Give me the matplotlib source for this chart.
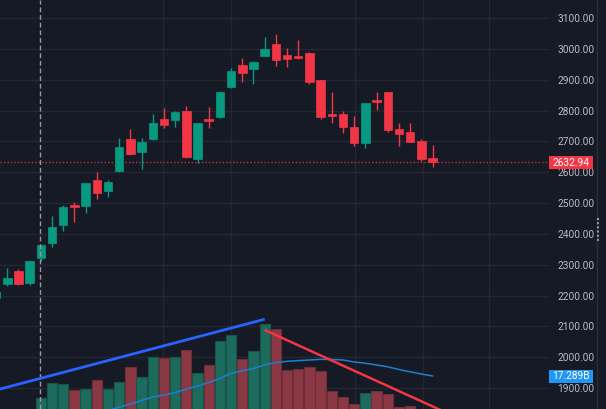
import matplotlib
matplotlib.use("Agg")
import matplotlib.pyplot as plt
from matplotlib.patches import Rectangle
from matplotlib.lines import Line2D
from matplotlib.transforms import blended_transform_factory

plt.rcParams['font.family'] = ['Roboto', 'DejaVu Sans']

# candle data, index -1 is the partly hidden bar at the left edge
opens = [2192, 2237, 2280, 2241, 2322, 2371, 2429, 2493, 2490, 2574, 2539,
         2604, 2707, 2666, 2707, 2773, 2770, 2800, 2643, 2772, 2779, 2876,
         2948, 2934, 2978, 3017, 2981, 2976, 2986, 2900, 2790, 2789, 2748,
         2696, 2835, 2860, 2740, 2732, 2702, 2647]
highs = [2214, 2290, 2286, 2313, 2365, 2458, 2494, 2505, 2566, 2600, 2575,
         2710, 2740, 2710, 2789, 2809, 2798, 2815, 2760, 2811, 2863, 2938,
         2971, 2960, 3038, 3049, 3003, 3030, 2990, 2901, 2862, 2800, 2783,
         2825, 2860, 2861, 2761, 2761, 2707, 2689]
lows = [2188, 2232, 2235, 2234, 2312, 2357, 2410, 2440, 2469, 2513, 2519,
        2602, 2656, 2610, 2705, 2743, 2746, 2646, 2631, 2745, 2776, 2874,
        2892, 2886, 2976, 2946, 2943, 2967, 2887, 2772, 2761, 2729, 2686,
        2680, 2802, 2732, 2686, 2698, 2638, 2618]
closes = [2210, 2258, 2237, 2312, 2364, 2423, 2487, 2486, 2564, 2534, 2568,
          2681, 2658, 2697, 2759, 2753, 2797, 2649, 2759, 2766, 2862, 2930,
          2921, 2958, 2999, 2965, 2967, 2970, 2892, 2781, 2784, 2748, 2694,
          2824, 2829, 2737, 2724, 2699, 2643, 2632.94]

# volume in billions, same order as the candles
volumes = [4.0, 4.5, 4.2, 5.0, 9.63, 14.71, 14.36, 12.35, 12.63, 15.77, 12.63,
           15.10, 20.57, 17.04, 24.06, 23.71, 24.06, 26.46, 18.24, 21.24, 29.57,
           31.76, 23.29, 26.11, 35.64, 33.98, 19.41, 19.76, 20.57, 19.16, 12.10,
           9.77, 7.41, 11.19, 11.89, 10.94, 6.25, 6.70, 5.2, 4.8]

# volume moving average, starting at candle 9
ma_start = 9
ma_values = [5.1, 6.28, 7.45, 8.64, 9.88, 10.59, 11.43, 12.70, 13.76, 15.0,
             16.41, 18.28, 19.12, 19.94, 21.24, 22.05, 22.48, 22.72, 22.94,
             23.18, 23.11, 22.94, 22.23, 21.81, 21.17, 20.54, 19.58, 18.77,
             17.99, 17.289]

price_ticks = [1900, 2000, 2100, 2200, 2300, 2400, 2500, 2600, 2700, 2800,
               2900, 3000, 3100]
time_grid = [13.9, 20.0, 31.05, 37.15, 43.05]

# drawn trend lines (index, price)
blue_trend = [(-1, 1893), (23, 2123)]
red_trend = [(23, 2088), (40, 1807)]

last_price = 2632.94
last_volume_ma = "17.289B"
crosshair_x = 2.95

BG = '#161a25'
GRID = '#242733'
GREEN = '#089981'
RED = '#f23645'
VOL_GREEN = '#1c6b5c'
VOL_RED = '#8a3944'
TEXT = '#b8bbc3'

W, H = 606, 409
fig = plt.figure(figsize=(W / 100, H / 100), dpi=100, facecolor=BG)
rect = [0, 0, 549 / W, 1]
ax_vol = fig.add_axes(rect, facecolor=BG)
ax = fig.add_axes(rect)
ax.patch.set_visible(False)

xs = list(range(-1, len(opens) - 1))
xlim = (-0.652, 48.41)
ax.set_xlim(*xlim)
ax_vol.set_xlim(*xlim)
ax.set_ylim(1831.5, 3159.4)
ax_vol.set_ylim(5.646, 149.96)

# grid, drawn on the back axes so that it sits under the volume bars
hz = blended_transform_factory(ax_vol.transAxes, ax.transData)
for p in price_ticks:
    ax_vol.plot([0, 1], [p, p], color=GRID, lw=1, transform=hz, zorder=0)
for t in time_grid:
    ax_vol.axvline(t, color=GRID, lw=1, zorder=0)

# volume bars and MA
vol_cols = [VOL_GREEN if c >= o else VOL_RED for o, c in zip(opens, closes)]
edge_cols = ['#16564a' if c >= o else '#6e2d37' for o, c in zip(opens, closes)]
ax_vol.bar(xs, volumes, width=0.92, color=vol_cols, edgecolor=edge_cols,
           linewidth=0.8, zorder=2)
ma_x = list(range(ma_start, ma_start + len(ma_values)))
ax_vol.plot(ma_x, ma_values, color='#1e7fd0', lw=1.1, zorder=3)

# candles
for x, o, h, l, c in zip(xs, opens, highs, lows, closes):
    col = GREEN if c >= o else RED
    ax.vlines(x, l, h, color=col, lw=1, zorder=3)
    ax.bar(x, abs(c - o), bottom=min(o, c), width=0.76, color=col,
           edgecolor=col, linewidth=0.5, zorder=4)

# current price line and crosshair
ax.axhline(last_price, color=RED, lw=1, ls=(0, (1, 1.5)), alpha=0.8, zorder=2)
ax.axvline(crosshair_x, color='#9598a1', lw=1, ls=(0, (3.5, 2)), zorder=5)

# trend lines
ax.plot([p[0] for p in blue_trend], [p[1] for p in blue_trend],
        color='#2962ff', lw=2, zorder=6, solid_capstyle='butt')
ax.plot([p[0] for p in red_trend], [p[1] for p in red_trend],
        color=RED, lw=1.8, zorder=6, solid_capstyle='butt')

# price scale
ax.yaxis.tick_right()
ax.set_yticks(price_ticks)
ax.set_yticklabels([f"{p:.2f}" for p in price_ticks])
ax.tick_params(axis='y', length=0, pad=6, labelsize=7.3, labelcolor=TEXT)
ax.set_xticks([])
ax_vol.set_xticks([])
ax_vol.set_yticks([])
for a in (ax, ax_vol):
    for s in a.spines.values():
        s.set_visible(False)


def axis_box(y_top, y_bot, color, label):
    fig.add_artist(Rectangle((549 / W, 1 - y_bot / H), 44 / W, (y_bot - y_top) / H,
                             transform=fig.transFigure, facecolor=color,
                             edgecolor='none', zorder=10))
    fig.text(571 / W, 1 - (y_top + y_bot) / 2 / H, label, color='white',
             fontsize=7.3, ha='center', va='center', zorder=11)


axis_box(156, 169, RED, f"{last_price:.2f}")
axis_box(370, 382.5, '#2196f3', last_volume_ma)

# right border and scroll handle
fig.add_artist(Line2D([597 / W, 597 / W], [0, 1], color='#2a2e39', lw=1,
                      transform=fig.transFigure))
fig.add_artist(Line2D([598 / W, 598 / W], [1 - 218 / H, 1 - 242 / H],
                      color='#9598a1', lw=1.5, ls=(0, (1, 1)),
                      transform=fig.transFigure))

fig.savefig('out.png', dpi=100, facecolor=BG)
